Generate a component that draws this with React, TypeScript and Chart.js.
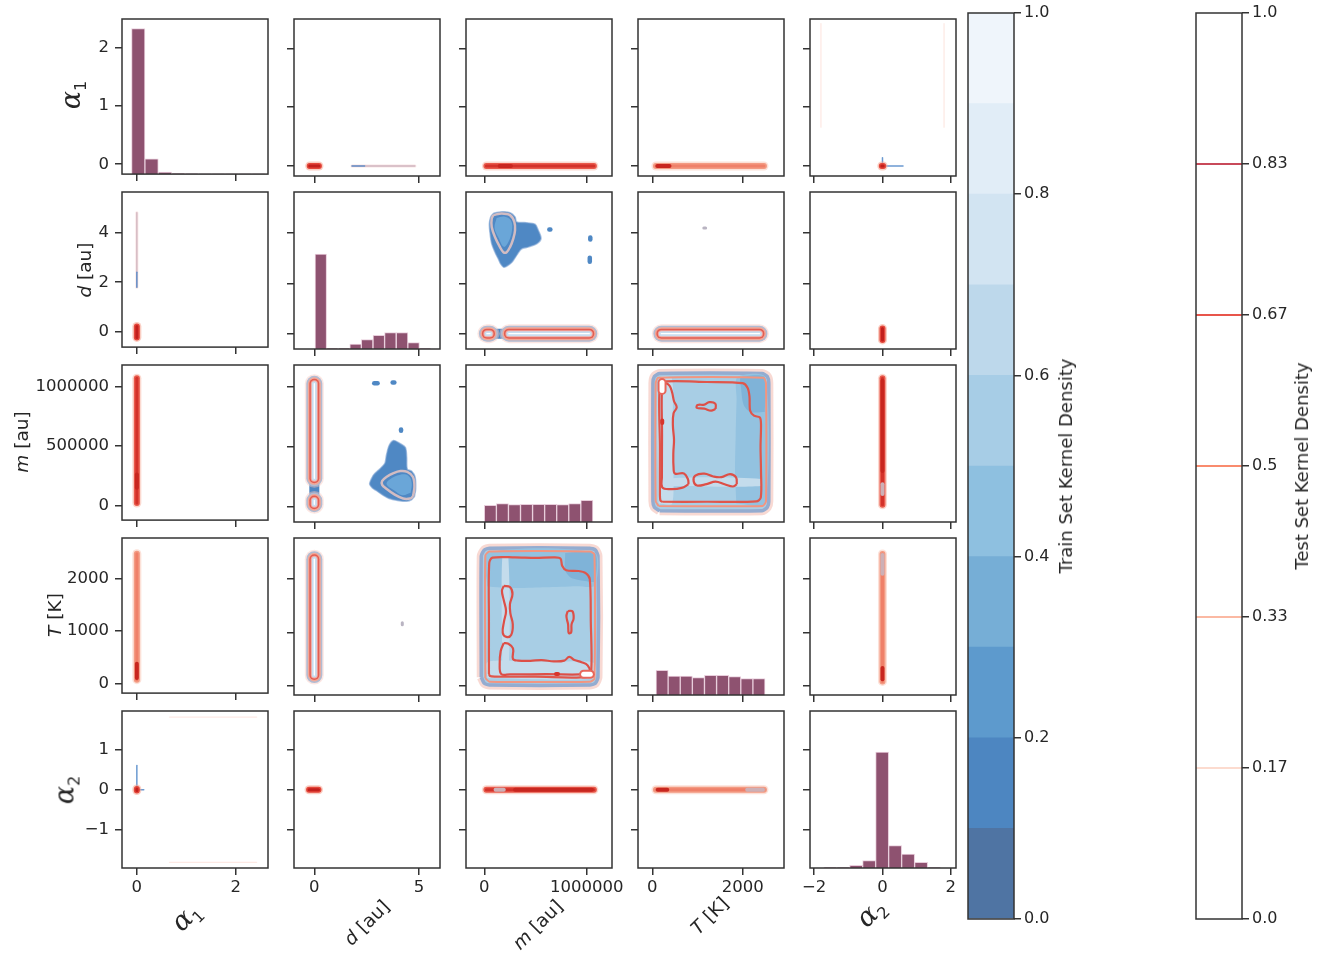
import React, { useEffect, useRef } from "react";
import { Chart, registerables } from "chart.js";

Chart.register(...registerables);
Chart.defaults.font.family = "'DejaVu Sans', sans-serif";
Chart.defaults.color = "#262626";

// ---------- variables, axis limits and ticks ----------
const VAR_SYMBOL = ["α", "d", "m", "T", "α"];
const VAR_SUB = ["1", "", "", "", "2"];
const VAR_UNIT = ["", "[au]", "[au]", "[K]", ""];

const X_MIN = [-0.3, -0.97, -179000, -317, -2.12];
const X_MAX = [2.65, 6.0, 1247000, 2914, 2.15];
const Y_MIN = [-0.17, -0.61, -123000, -175, -1.94];
const Y_MAX = [2.5, 5.63, 1181000, 2769, 1.95];
const X_TICKS = [[0, 2], [0, 5], [0, 1000000], [0, 2000], [-2, 0, 2]];
const Y_TICKS = [[0, 1, 2], [0, 2, 4], [0, 500000, 1000000], [0, 1000, 2000], [-1, 0, 1]];

// ---------- marginal histograms (bin centres and counts) ----------
const HIST_MAX = 942;
const A1_HIST_CENTERS = [0.028, 0.298, 0.568, 0.838, 1.108, 1.378, 1.648, 1.918, 2.188, 2.458];
const A1_HIST_COUNTS = [884, 92, 12, 3, 2, 1, 1, 1, 1, 1];
const D_HIST_CENTERS = [0.31, 0.86, 1.42, 1.97, 2.52, 3.08, 3.63, 4.19, 4.74, 5.29];
const D_HIST_COUNTS = [570, 2, 3, 30, 56, 82, 98, 99, 38, 2];
const M_HIST_CENTERS = [58900, 176700, 294500, 412300, 530100, 647900, 765700, 883500, 1001300];
const M_HIST_COUNTS = [100, 110, 104, 106, 106, 106, 104, 110, 130];
const T_HIST_CENTERS = [216, 484, 752, 1020, 1288, 1556, 1824, 2092, 2360];
const T_HIST_COUNTS = [148, 114, 114, 104, 118, 118, 110, 98, 98];
const A2_HIST_CENTERS = [-1.53, -1.15, -0.77, -0.39, -0.01, 0.37, 0.75, 1.13, 1.51];
const A2_HIST_COUNTS = [2, 2, 16, 44, 696, 134, 84, 34, 2];

// ---------- density contours, as [first variable, second variable] ----------
// alpha1 / d
const A1_D_BLOB = [[0, -0.22], [0, 0.22]];
const A1_D_TRAIL = [[0, 1.8], [0, 4.8]];
const A1_D_TRAIL_LOW = [[0, 1.8], [0, 2.4]];
// alpha1 / m
const A1_M_BAND = [[0, 20000], [0, 1070000]];
const A1_M_CORE = [[0, 150000], [0, 260000]];
// alpha1 / T
const A1_T_BAND = [[0, 80], [0, 2470]];
const A1_T_CORE = [[0, 110], [0, 380]];
// alpha1 / alpha2
const A1_A2_DOT = [[0, -0.02], [0, 0.02]];
const A1_A2_TAIL_A2 = [[0, 0], [0, 0.6]];
const A1_A2_TAIL_A1 = [[0, 0], [0.14, 0]];
const A1_A2_EDGE_HI = [[0.66, 1.8], [2.42, 1.8]];
const A1_A2_EDGE_LO = [[0.66, -1.8], [2.42, -1.8]];
// m / d
const DM_BLOB_OUTER = [
  [88000, 4.78], [153000, 4.84], [251000, 4.81], [300000, 4.64], [316000, 4.44], [414000, 4.41],
  [495000, 4.35], [527000, 4.11], [554000, 3.78], [512000, 3.57], [430000, 3.44], [365000, 3.37],
  [322000, 3.15], [283000, 2.91], [251000, 2.77], [192000, 2.64], [160000, 2.77], [137000, 2.97],
  [104000, 3.24], [72000, 3.57], [56000, 3.97], [49000, 4.37], [62000, 4.64],
];
const DM_BLOB_CORE = [
  [120000, 4.6], [200000, 4.65], [260000, 4.5], [270000, 4.1], [230000, 3.6], [190000, 3.45],
  [140000, 3.8], [100000, 4.2],
];
const DM_BLOB_RIM = [
  [88000, 4.71], [170000, 4.78], [251000, 4.71], [293000, 4.44], [300000, 4.11], [283000, 3.78],
  [251000, 3.44], [218000, 3.24], [186000, 3.24], [153000, 3.44], [104000, 3.84], [72000, 4.24],
  [72000, 4.57],
];
const DM_DOT_A = [[635000, 4.14], [645000, 4.14]];
const DM_DOT_B = [[1035000, 3.74], [1035000, 3.82]];
const DM_DOT_C = [[1030000, 2.86], [1030000, 3.02]];
const DM_NECK = [[60000, 0], [220000, 0]];
const DM_BAND_LEFT = [[25000, 0], [55000, 0]];
const DM_BAND_RIGHT = [[240000, 0], [1025000, 0]];
// T / d
const DT_BAND = [[200, 0], [2370, 0]];
const DT_SPECK = [[1140, 4.2], [1180, 4.2]];
// d / alpha2
const DA2_BLOB = [[-0.25, 0], [0.2, 0]];
// m / T
const MT_OUTLINE = [
  [-30000, 160], [-30000, 2430], [0, 2545], [50000, 2578], [1030000, 2578], [1085000, 2545],
  [1110000, 2430], [1110000, 160], [1085000, 45], [1030000, 13], [50000, 13], [0, 45],
];
const MT_TOP_BAND = [
  [30000, 1860], [300000, 1830], [600000, 1845], [900000, 1865], [1080000, 1880], [1080000, 2490], [30000, 2490],
];
const MT_CORNER = [
  [790000, 2490], [790000, 2160], [850000, 2020], [1000000, 1960], [1080000, 1960], [1080000, 2490],
];
const MT_BOTTOM_LIGHT = [
  [30000, 140], [30000, 440], [400000, 460], [700000, 450], [1070000, 430], [1070000, 140],
];
const MT_STRIP_LIGHT = [[175000, 440], [175000, 2400], [235000, 2400], [240000, 440]];
const MT_RING_A = [
  [10000, 140], [10000, 2440], [50000, 2515], [1030000, 2515], [1075000, 2460], [1075000, 130],
  [1030000, 75], [50000, 75],
];
const MT_RING_C = [
  [45000, 220], [45000, 1200], [48000, 2300], [80000, 2400], [300000, 2405], [500000, 2395],
  [690000, 2405], [745000, 2380], [760000, 2250], [800000, 2165], [920000, 2150], [990000, 2110],
  [1030000, 2000], [1040000, 1200], [1045000, 300], [1010000, 165], [500000, 168], [100000, 168],
  [55000, 180],
];
const MT_LOOP_D = [
  [190000, 800], [230000, 790], [280000, 700], [280000, 500], [330000, 470], [450000, 465],
  [560000, 480], [680000, 455], [780000, 470], [830000, 540], [880000, 480], [950000, 440],
  [1010000, 380], [1030000, 270], [1000000, 215], [600000, 215], [250000, 212], [165000, 220],
  [150000, 400], [160000, 650],
];
const MT_LOOP_E = [
  [190000, 1870], [250000, 1850], [275000, 1720], [250000, 1530], [255000, 1350], [278000, 1150],
  [262000, 950], [215000, 915], [180000, 990], [192000, 1200], [212000, 1400], [190000, 1600],
  [172000, 1780],
];
const MT_LOOP_F = [
  [815000, 1400], [860000, 1395], [872000, 1260], [852000, 1150], [848000, 1000], [825000, 985],
  [818000, 1150], [802000, 1300],
];
const MT_HOT = [[970000, 215], [1035000, 215]];
const MT_HOT_DOT = [[700000, 219], [720000, 219]];
// m / alpha2
const MA2_BAND = [[20000, 0], [1070000, 0]];
const MA2_CORE = [[300000, 0], [1050000, 0]];
const MA2_PALE = [[110000, 0], [190000, 0]];
// T / alpha2
const TA2_BAND = [[80, 0], [2470, 0]];
const TA2_CORE = [[120, 0], [330, 0]];
const TA2_PALE = [[2100, 0], [2450, 0]];

// ---------- colour bars ----------
const CB1_BOUNDS = [0, 0.1, 0.2, 0.3, 0.4, 0.5, 0.6, 0.7, 0.8, 0.9, 1.0];
const CB1_COLORS = ["#4f74a3", "#4d86c1", "#5d9acd", "#76aed6", "#8ec0e0", "#a7cde6", "#bdd8eb", "#d2e4f2", "#e1edf7", "#eff5fb"];
const CB1_TICKS = [0, 0.2, 0.4, 0.6, 0.8, 1.0];
const CB2_LEVELS = [0.1667, 0.3333, 0.5, 0.6667, 0.8333];
const CB2_COLORS = ["#fcdbcf", "#fbb9a3", "#f98b6e", "#e8554b", "#c84a5a"];
const CB2_TICKS = [0, 0.1667, 0.3333, 0.5, 0.6667, 0.8333, 1.0];
const CB2_TICK_LABELS = ["0.0", "0.17", "0.33", "0.5", "0.67", "0.83", "1.0"];

// ---------- layout ----------
const COL_LEFT = [122, 294, 466, 638, 810];
const ROW_TOP = [19, 192, 365, 538, 711];
const PANEL_W = 146;
const PANEL_H = 157;
const Y_TITLE_POS = [[70, 95], [85, 270], [22, 442], [55, 615], [64, 790]];
const X_TITLE_POS = [[185, 916], [367, 923], [538, 925], [710, 916], [870, 912]];
const TICK_FONT = 16.5;
const TITLE_FONT = 18.5;

// ---------- styles ----------
type Pt = number[];
type CapStyle = [number, string][];
type PolyStyle = { fill?: string; stroke?: string; width?: number; tension?: number };
type Item = { kind: "cap"; segs: Pt[][]; style: CapStyle } | { kind: "poly"; pts: Pt[]; style: PolyStyle };

const HIST_FILL = "#8e5270";
const HIST_EDGE = "#e8cddb";
const GLOW_DARK: CapStyle = [[9, "rgba(247,170,150,0.45)"], [6, "#e9594b"], [3, "#d3322a"]];
const GLOW_SALMON: CapStyle = [[9, "rgba(250,195,178,0.5)"], [6, "#f39a82"], [3, "#ef8069"]];
const CORE_DARK: CapStyle = [[4, "#c8261f"]];
const CORE_PALE: CapStyle = [[4, "#cdb0b6"]];
const DOT_RED: CapStyle = [[9, "rgba(246,165,145,0.55)"], [6, "#e4463a"], [3, "#c21f1c"]];
const TRAIL: CapStyle = [[3, "rgba(236,170,170,0.3)"], [1.3, "rgba(190,160,175,0.7)"]];
const TRAIL_BLUE: CapStyle = [[1.5, "rgba(80,135,200,0.85)"]];
const FAINT_EDGE: CapStyle = [[1.3, "rgba(252,215,205,0.55)"]];
const RINGS: CapStyle = [
  [19, "rgba(248,200,190,0.45)"], [16, "#b0bcd3"], [13, "#f2a797"], [10, "#e25d52"],
  [7, "#f2a79e"], [5, "#c9ddef"], [1.4, "#ffffff"],
];
const BLUE_NECK: CapStyle = [[10, "#4d86c2"]];
const BLUE_DOT: CapStyle = [[4.5, "#4f88c4"]];
const SPECK: CapStyle = [[3, "#b9b4c2"]];
const HOT: CapStyle = [[9, "#e8665a"], [5, "#ffffff"]];
const SPOT_RED: CapStyle = [[4, "#d7352c"]];

const BLOB_OUTER: PolyStyle = { fill: "#4f88c4", stroke: "rgba(120,160,210,0.6)", width: 1.5, tension: 0.3 };
const BLOB_CORE: PolyStyle = { fill: "#6aa6d8", tension: 0.4 };
const BLOB_RIM: PolyStyle = { stroke: "#d2bcc2", width: 2.5, tension: 0.35 };
const SQUARE_HALO: PolyStyle = { stroke: "rgba(242,185,175,0.55)", width: 9, tension: 0.2 };
const SQUARE_BODY: PolyStyle = { fill: "#a8cee5", stroke: "#94acd0", width: 3.5, tension: 0.2 };
const SQUARE_TOP: PolyStyle = { fill: "#93c2e0", tension: 0.25 };
const SQUARE_CORNER: PolyStyle = { fill: "#7fb3d8", tension: 0.25 };
const SQUARE_LIGHT: PolyStyle = { fill: "#c4dcec", tension: 0.25 };
const RING_OUTER: PolyStyle = { stroke: "#f29580", width: 2, tension: 0.2 };
const RING_INNER: PolyStyle = { stroke: "#e0564b", width: 2.2, tension: 0.3 };
const LOOP: PolyStyle = { stroke: "#dd4f47", width: 2.2, tension: 0.4 };

const cap = (segs: Pt[][], style: CapStyle): Item => ({ kind: "cap", segs, style });
const poly = (pts: Pt[], style: PolyStyle): Item => ({ kind: "poly", pts, style });

const PAIRS: { va: number; vb: number; items: Item[] }[] = [
  { va: 0, vb: 1, items: [cap([A1_D_TRAIL], TRAIL), cap([A1_D_TRAIL_LOW], TRAIL_BLUE), cap([A1_D_BLOB], DOT_RED)] },
  { va: 0, vb: 2, items: [cap([A1_M_BAND], GLOW_DARK), cap([A1_M_CORE], CORE_DARK)] },
  { va: 0, vb: 3, items: [cap([A1_T_BAND], GLOW_SALMON), cap([A1_T_CORE], CORE_DARK)] },
  {
    va: 0, vb: 4,
    items: [
      cap([A1_A2_EDGE_HI, A1_A2_EDGE_LO], FAINT_EDGE),
      cap([A1_A2_TAIL_A2, A1_A2_TAIL_A1], TRAIL_BLUE),
      cap([A1_A2_DOT], DOT_RED),
    ],
  },
  {
    va: 2, vb: 1,
    items: [
      poly(DM_BLOB_OUTER, BLOB_OUTER),
      poly(DM_BLOB_CORE, BLOB_CORE),
      poly(DM_BLOB_RIM, BLOB_RIM),
      cap([DM_DOT_A, DM_DOT_B, DM_DOT_C], BLUE_DOT),
      cap([DM_NECK], BLUE_NECK),
      cap([DM_BAND_LEFT, DM_BAND_RIGHT], RINGS),
    ],
  },
  { va: 3, vb: 1, items: [cap([DT_BAND], RINGS), cap([DT_SPECK], SPECK)] },
  { va: 1, vb: 4, items: [cap([DA2_BLOB], DOT_RED)] },
  {
    va: 2, vb: 3,
    items: [
      poly(MT_OUTLINE, SQUARE_HALO),
      poly(MT_OUTLINE, SQUARE_BODY),
      poly(MT_TOP_BAND, SQUARE_TOP),
      poly(MT_CORNER, SQUARE_CORNER),
      poly(MT_BOTTOM_LIGHT, SQUARE_LIGHT),
      poly(MT_STRIP_LIGHT, SQUARE_LIGHT),
      poly(MT_RING_A, RING_OUTER),
      poly(MT_RING_C, RING_INNER),
      poly(MT_LOOP_D, LOOP),
      poly(MT_LOOP_E, LOOP),
      poly(MT_LOOP_F, LOOP),
      cap([MT_HOT], HOT),
      cap([MT_HOT_DOT], SPOT_RED),
    ],
  },
  { va: 2, vb: 4, items: [cap([MA2_BAND], GLOW_DARK), cap([MA2_CORE], CORE_DARK), cap([MA2_PALE], CORE_PALE)] },
  { va: 3, vb: 4, items: [cap([TA2_BAND], GLOW_SALMON), cap([TA2_CORE], CORE_DARK), cap([TA2_PALE], CORE_PALE)] },
];

const HISTS = [
  { centers: A1_HIST_CENTERS, counts: A1_HIST_COUNTS },
  { centers: D_HIST_CENTERS, counts: D_HIST_COUNTS },
  { centers: M_HIST_CENTERS, counts: M_HIST_COUNTS },
  { centers: T_HIST_CENTERS, counts: T_HIST_COUNTS },
  { centers: A2_HIST_CENTERS, counts: A2_HIST_COUNTS },
];

// ---------- chart helpers ----------
const FRAME = {
  id: "frame",
  afterDraw(chart: any) {
    const { ctx, chartArea: a } = chart;
    ctx.save();
    ctx.strokeStyle = "#333333";
    ctx.lineWidth = 1.5;
    ctx.strokeRect(a.left, a.top, a.right - a.left, a.bottom - a.top);
    ctx.restore();
  },
};

const fmtTick = (v: number) => (v < 0 ? "\u2212" + Math.abs(v) : String(v));

function axis(min: number, max: number, ticks: number[], showLabels: boolean, size: number, horizontal: boolean) {
  return {
    type: "linear",
    min,
    max,
    offset: false,
    afterBuildTicks: (s: any) => {
      s.ticks = ticks.map((value) => ({ value }));
    },
    afterFit: (s: any) => {
      if (horizontal) s.height = size;
      else s.width = size;
    },
    ticks: {
      display: showLabels,
      autoSkip: false,
      maxRotation: 0,
      minRotation: 0,
      padding: horizontal ? 3 : 6,
      color: "#262626",
      font: { size: TICK_FONT, family: "'DejaVu Sans', sans-serif" },
      callback: (v: number) => fmtTick(v),
    },
    grid: { display: true, drawOnChartArea: false, drawTicks: true, tickLength: 7, color: "#333333", lineWidth: 1.5, offset: false },
    border: { display: false },
  };
}

function itemDatasets(item: Item, map: (p: Pt) => { x: number; y: number }) {
  const out: any[] = [];
  if (item.kind === "cap") {
    for (const [w, color] of item.style) {
      for (const seg of item.segs) {
        out.push({
          type: "line",
          data: seg.map(map),
          borderColor: color,
          borderWidth: w,
          borderCapStyle: "round",
          borderJoinStyle: "round",
          pointRadius: 0,
          fill: false,
          tension: 0,
          clip: 0,
        });
      }
    }
  } else {
    const s = item.style;
    const data = item.pts.map(map);
    out.push({
      type: "line",
      data: [...data, data[0]],
      borderColor: s.stroke ?? "rgba(0,0,0,0)",
      borderWidth: s.width ?? 0,
      backgroundColor: s.fill ?? "rgba(0,0,0,0)",
      fill: s.fill ? "shape" : false,
      tension: s.tension ?? 0.3,
      borderJoinStyle: "round",
      pointRadius: 0,
      clip: 0,
    });
  }
  return out;
}

function panelConfig(r: number, c: number, L: number, R: number, B: number, T: number) {
  let datasets: any[] = [];
  const scales: any = {
    x: axis(X_MIN[c], X_MAX[c], X_TICKS[c], r === 4, B, true),
    y: axis(Y_MIN[r], Y_MAX[r], Y_TICKS[r], c === 0, L, false),
  };
  if (r === c) {
    const h = HISTS[c];
    datasets.push({
      type: "bar",
      data: h.centers.map((x, i) => ({ x, y: h.counts[i] })),
      yAxisID: "yh",
      backgroundColor: HIST_FILL,
      borderColor: HIST_EDGE,
      borderWidth: 1,
      barPercentage: 1,
      categoryPercentage: 1,
    });
    scales.yh = { type: "linear", display: false, min: 0, max: HIST_MAX };
  } else {
    const pair = PAIRS.find((p) => (p.va === c && p.vb === r) || (p.va === r && p.vb === c))!;
    const map = (p: Pt) => (pair.va === c ? { x: p[0], y: p[1] } : { x: p[1], y: p[0] });
    pair.items.forEach((it) => datasets.push(...itemDatasets(it, map)));
  }
  datasets = datasets.reverse();
  return {
    type: "line",
    data: { datasets },
    options: {
      animation: false,
      responsive: false,
      devicePixelRatio: 1,
      events: [],
      layout: { padding: { top: T, right: R, bottom: 0, left: 0 } },
      plugins: { legend: { display: false }, tooltip: { enabled: false } },
      scales,
    },
    plugins: [FRAME],
  };
}

function cbAxis(ticks: number[], labels: (v: number, i: number) => string) {
  return {
    type: "linear",
    position: "right",
    min: 0,
    max: 1,
    afterBuildTicks: (s: any) => {
      s.ticks = ticks.map((value) => ({ value }));
    },
    afterFit: (s: any) => {
      s.width = 60;
    },
    ticks: {
      autoSkip: false,
      padding: 3,
      color: "#262626",
      font: { size: 16, family: "'DejaVu Sans', sans-serif" },
      callback: (v: number, i: number) => labels(v, i),
    },
    grid: { display: true, drawOnChartArea: false, drawTicks: true, tickLength: 7, color: "#333333", lineWidth: 1.5 },
    border: { display: false },
  };
}

function trainBarConfig() {
  return {
    type: "bar",
    data: {
      labels: [""],
      datasets: CB1_COLORS.map((color, i) => ({
        data: [[CB1_BOUNDS[i], CB1_BOUNDS[i + 1]]],
        backgroundColor: color,
        borderWidth: 0,
        barPercentage: 1,
        categoryPercentage: 1,
        grouped: false,
      })),
    },
    options: {
      animation: false,
      responsive: false,
      devicePixelRatio: 1,
      events: [],
      layout: { padding: { top: 13, right: 0, bottom: 14, left: 8 } },
      plugins: { legend: { display: false }, tooltip: { enabled: false } },
      scales: {
        x: { type: "category", display: false, offset: true },
        y: cbAxis(CB1_TICKS, (v) => Number(v).toFixed(1)),
      },
    },
    plugins: [FRAME],
  };
}

function testBarConfig() {
  return {
    type: "line",
    data: {
      datasets: CB2_LEVELS.map((lv, i) => ({
        data: [{ x: 0, y: lv }, { x: 1, y: lv }],
        borderColor: CB2_COLORS[i],
        borderWidth: 2,
        pointRadius: 0,
        fill: false,
      })),
    },
    options: {
      animation: false,
      responsive: false,
      devicePixelRatio: 1,
      events: [],
      layout: { padding: { top: 13, right: 0, bottom: 14, left: 8 } },
      plugins: { legend: { display: false }, tooltip: { enabled: false } },
      scales: {
        x: { type: "linear", display: false, min: 0, max: 1 },
        y: cbAxis(CB2_TICKS, (_v, i) => CB2_TICK_LABELS[i]),
      },
    },
    plugins: [FRAME],
  };
}

// ---------- components ----------
function ChartBox({ left, top, width, height, make }: { left: number; top: number; width: number; height: number; make: () => any }) {
  const ref = useRef<HTMLCanvasElement | null>(null);
  useEffect(() => {
    if (!ref.current) return;
    const chart = new Chart(ref.current, make());
    return () => chart.destroy();
  }, []);
  return <canvas ref={ref} width={width} height={height} style={{ position: "absolute", left, top, width, height }} />;
}

function VarTitle({ i }: { i: number }) {
  if (VAR_SUB[i]) {
    return (
      <span>
        <span style={{ fontFamily: "'DejaVu Serif', serif", fontStyle: "italic", fontSize: 27 }}>{VAR_SYMBOL[i]}</span>
        <span style={{ fontSize: 16, position: "relative", top: 6 }}>{VAR_SUB[i]}</span>
      </span>
    );
  }
  return (
    <span style={{ fontSize: TITLE_FONT }}>
      <i>{VAR_SYMBOL[i]}</i> {VAR_UNIT[i]}
    </span>
  );
}

function Label({ x, y, rot, children, size = 16 }: { x: number; y: number; rot: number; children: any; size?: number }) {
  return (
    <div
      style={{
        position: "absolute",
        left: x,
        top: y,
        transform: `translate(-50%, -50%) rotate(${rot}deg)`,
        whiteSpace: "nowrap",
        color: "#262626",
        fontSize: size,
        lineHeight: 1,
        fontFamily: "'DejaVu Sans', sans-serif",
      }}
    >
      {children}
    </div>
  );
}

export default function App() {
  const panels: any[] = [];
  for (let r = 0; r < 5; r++) {
    for (let c = 0; c < 5; c++) {
      const L = c === 0 ? 100 : 14;
      const R = r === 4 ? 24 : 6;
      const B = r === 4 ? 34 : 14;
      const T = 16;
      panels.push(
        <ChartBox
          key={`p${r}${c}`}
          left={COL_LEFT[c] - L}
          top={ROW_TOP[r] - T}
          width={L + PANEL_W + R}
          height={T + PANEL_H + B}
          make={() => panelConfig(r, c, L, R, B, T)}
        />
      );
    }
  }
  return (
    <div style={{ position: "absolute", left: 0, top: 0, width: 1329, height: 957, background: "#ffffff", overflow: "hidden" }}>
      {panels}
      <ChartBox left={960} top={0} width={114} height={933} make={trainBarConfig} />
      <ChartBox left={1188} top={0} width={114} height={933} make={testBarConfig} />
      {Y_TITLE_POS.map(([x, y], i) => (
        <Label key={`yt${i}`} x={x} y={y} rot={-90}>
          <VarTitle i={i} />
        </Label>
      ))}
      {X_TITLE_POS.map(([x, y], i) => (
        <Label key={`xt${i}`} x={x} y={y} rot={-45}>
          <VarTitle i={i} />
        </Label>
      ))}
      <Label x={1066} y={466} rot={-90} size={18}>Train Set Kernel Density</Label>
      <Label x={1302} y={466} rot={-90} size={18}>Test Set Kernel Density</Label>
    </div>
  );
}
